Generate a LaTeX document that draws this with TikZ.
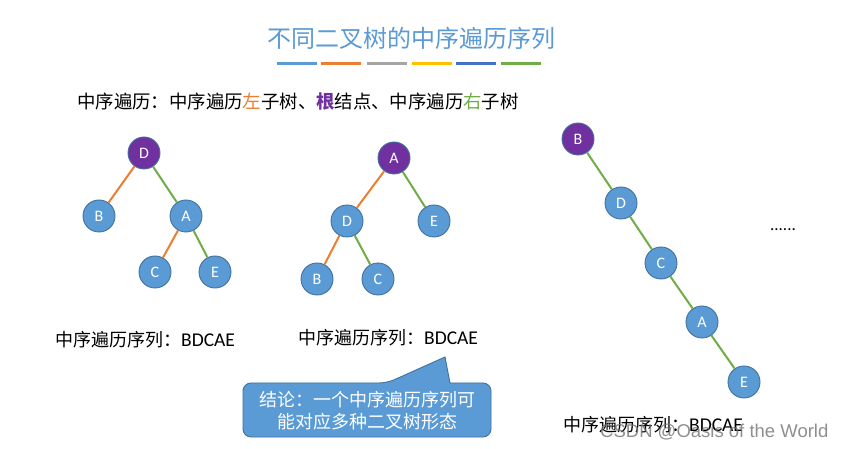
\documentclass[tikz,border=0pt]{standalone}
\usepackage{fontspec}
\newfontfamily\cjk{Noto Sans CJK SC}
\newfontfamily\lat{Carlito}
\newfontfamily\wm{Liberation Sans}
\definecolor{nblue}{HTML}{5B9BD5}
\definecolor{nborder}{HTML}{41719C}
\definecolor{npurple}{HTML}{7030A0}
\definecolor{norange}{HTML}{ED7D31}
\definecolor{ngreen}{HTML}{70AD47}
\definecolor{ngray}{HTML}{A5A5A5}
\definecolor{ngold}{HTML}{FFC000}
\definecolor{ndblue}{HTML}{4472C4}
\definecolor{ntitle}{HTML}{5B9BD5}
\tikzset{
  tnode/.style={circle,draw=nborder,line width=0.9pt,fill=nblue,minimum size=32pt,inner sep=0pt,text=white,font=\lat\fontsize{16}{16}\selectfont},
  rnode/.style={tnode,fill=npurple,draw=nborder},
  le/.style={line width=2pt,draw=norange},
  re/.style={line width=2pt,draw=ngreen},
  bar/.style={line width=3.2pt},
  lbl/.style={anchor=west,inner sep=0pt,font=\cjk\fontsize{18}{18}\selectfont},
  callout/.style={fill=nblue,draw=nborder,line width=0.9pt}
}
\begin{document}
\begin{tikzpicture}[x=1pt,y=-1pt]
\useasboundingbox[fill=white] (0,0) rectangle (847,449);
% title
\node[inner sep=0pt,text=ntitle,font=\cjk\fontsize{24}{24}\selectfont] (title) at (411,38) {不同二叉树的中序遍历序列};
\draw[bar,nblue] (277,63.5) -- (317,63.5);
\draw[bar,norange] (321,63.5) -- (361,63.5);
\draw[bar,ngray] (367,63.5) -- (407,63.5);
\draw[bar,ngold] (412,63.5) -- (452,63.5);
\draw[bar,ndblue] (456,63.5) -- (496,63.5);
\draw[bar,ngreen] (501,63.5) -- (541,63.5);
% subtitle
\node[lbl,font=\cjk\fontsize{18.4}{19}\selectfont] (sub) at (77,102) {中序遍历：中序遍历\textcolor{norange}{左}子树、\textcolor{npurple}{\bfseries 根}结点、中序遍历\textcolor{ngreen}{右}子树};
% tree 1
\node[rnode] (t1D) at (144,153) {D};
\node[tnode] (t1B) at (99,216) {B};
\node[tnode] (t1A) at (186,216) {A};
\node[tnode] (t1C) at (155,272) {C};
\node[tnode] (t1E) at (215,272) {E};
\draw[le] (t1D) -- (t1B);
\draw[re] (t1D) -- (t1A);
\draw[le] (t1A) -- (t1C);
\draw[re] (t1A) -- (t1E);
% tree 2
\node[rnode] (t2A) at (394,158) {A};
\node[tnode] (t2D) at (347,221) {D};
\node[tnode] (t2E) at (434,221) {E};
\node[tnode] (t2B) at (317,279) {B};
\node[tnode] (t2C) at (378,279) {C};
\draw[le] (t2A) -- (t2D);
\draw[re] (t2A) -- (t2E);
\draw[le] (t2D) -- (t2B);
\draw[re] (t2D) -- (t2C);
% tree 3
\node[rnode] (t3B) at (578,139) {B};
\node[tnode] (t3D) at (621,203) {D};
\node[tnode] (t3C) at (661,263) {C};
\node[tnode] (t3A) at (702,322) {A};
\node[tnode] (t3E) at (744,382) {E};
\draw[re] (t3B) -- (t3D);
\draw[re] (t3D) -- (t3C);
\draw[re] (t3C) -- (t3A);
\draw[re] (t3A) -- (t3E);
\node[inner sep=0pt,font=\lat\fontsize{17}{17}\selectfont] (dots) at (783,230) {......};
% labels
\node[lbl] (l1) at (55,340) {中序遍历序列：{\lat\fontsize{19.5}{19}\selectfont BDCAE}};
\node[lbl] (l2) at (298,338) {中序遍历序列：{\lat\fontsize{19.5}{19}\selectfont BDCAE}};
\node[lbl] (l3) at (563,425) {中序遍历序列：{\lat\fontsize{19.5}{19}\selectfont BDCAE}};
% callout
\draw[callout] (243,410) [rounded corners=8pt] -- (243,383) -- (387,383) [sharp corners] -- (445,357) -- (450,383) [rounded corners=8pt] -- (491,383) -- (491,437) -- (243,437) [sharp corners] -- cycle;
\node[inner sep=0pt,text=white,align=center,font=\cjk\fontsize{18}{22}\selectfont] (concl) at (367,411) {结论：一个中序遍历序列可\\能对应多种二叉树形态};
% watermark
\node[anchor=west,inner sep=0pt,text=black!55,opacity=0.8,font=\wm\fontsize{18.5}{19}\selectfont] (wmk) at (600,432) {CSDN @Oasis of the World};
\end{tikzpicture}
\end{document}
